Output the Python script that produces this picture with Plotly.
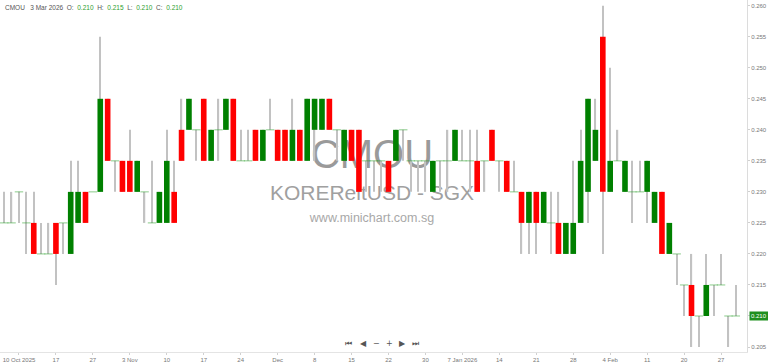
import plotly.graph_objects as go

# ---------------- data ----------------
dates = [
    "2025-10-08", "2025-10-09", "2025-10-10", "2025-10-13", "2025-10-14", "2025-10-15", "2025-10-16", "2025-10-17",
    "2025-10-21", "2025-10-22", "2025-10-23", "2025-10-24", "2025-10-27", "2025-10-28", "2025-10-29", "2025-10-30",
    "2025-10-31", "2025-11-03", "2025-11-04", "2025-11-05", "2025-11-06", "2025-11-07", "2025-11-10", "2025-11-11",
    "2025-11-12", "2025-11-13", "2025-11-14", "2025-11-17", "2025-11-18", "2025-11-19", "2025-11-20", "2025-11-21",
    "2025-11-24", "2025-11-25", "2025-11-26", "2025-11-27", "2025-11-28", "2025-12-01", "2025-12-02", "2025-12-03",
    "2025-12-04", "2025-12-05", "2025-12-08", "2025-12-09", "2025-12-10", "2025-12-11", "2025-12-12", "2025-12-15",
    "2025-12-16", "2025-12-17", "2025-12-18", "2025-12-19", "2025-12-22", "2025-12-23", "2025-12-24", "2025-12-26",
    "2025-12-29", "2025-12-30", "2025-12-31", "2026-01-02", "2026-01-05", "2026-01-06", "2026-01-07", "2026-01-08",
    "2026-01-09", "2026-01-12", "2026-01-13", "2026-01-14", "2026-01-15", "2026-01-16", "2026-01-19", "2026-01-20",
    "2026-01-21", "2026-01-22", "2026-01-23", "2026-01-26", "2026-01-27", "2026-01-28", "2026-01-29", "2026-01-30",
    "2026-02-02", "2026-02-03", "2026-02-04", "2026-02-05", "2026-02-06", "2026-02-09", "2026-02-10", "2026-02-11",
    "2026-02-12", "2026-02-13", "2026-02-16", "2026-02-19", "2026-02-20", "2026-02-23", "2026-02-24", "2026-02-25",
    "2026-02-26", "2026-02-27", "2026-03-02", "2026-03-03",
]

opens = [
    0.225, 0.225, 0.230, 0.225, 0.225, 0.220, 0.220, 0.225, 0.225, 0.220,
    0.225, 0.230, 0.230, 0.230, 0.245, 0.235, 0.235, 0.235, 0.230, 0.230,
    0.225, 0.225, 0.225, 0.230, 0.240, 0.240, 0.240, 0.245, 0.235, 0.240,
    0.240, 0.245, 0.235, 0.235, 0.240, 0.235, 0.240, 0.240, 0.240, 0.235,
    0.240, 0.235, 0.240, 0.240, 0.245, 0.240, 0.235, 0.240, 0.240, 0.235,
    0.235, 0.235, 0.235, 0.235, 0.240, 0.235, 0.235, 0.235, 0.230, 0.235,
    0.235, 0.235, 0.235, 0.235, 0.235, 0.235, 0.240, 0.235, 0.235, 0.230,
    0.230, 0.225, 0.230, 0.225, 0.225, 0.225, 0.220, 0.220, 0.225, 0.230,
    0.235, 0.255, 0.230, 0.235, 0.230, 0.230, 0.230, 0.230, 0.225, 0.230,
    0.220, 0.220, 0.215, 0.215, 0.210, 0.210, 0.215, 0.215, 0.210, 0.210,
]

highs = [
    0.230, 0.230, 0.230, 0.230, 0.230, 0.225, 0.225, 0.225, 0.225, 0.235,
    0.235, 0.230, 0.230, 0.255, 0.245, 0.235, 0.235, 0.240, 0.235, 0.230,
    0.235, 0.230, 0.240, 0.235, 0.245, 0.245, 0.240, 0.245, 0.240, 0.245,
    0.245, 0.245, 0.240, 0.240, 0.240, 0.240, 0.245, 0.240, 0.240, 0.245,
    0.240, 0.245, 0.245, 0.245, 0.245, 0.240, 0.240, 0.240, 0.240, 0.235,
    0.235, 0.235, 0.235, 0.240, 0.240, 0.235, 0.235, 0.235, 0.235, 0.235,
    0.240, 0.240, 0.240, 0.240, 0.240, 0.235, 0.240, 0.235, 0.235, 0.235,
    0.230, 0.230, 0.230, 0.230, 0.230, 0.230, 0.225, 0.235, 0.240, 0.245,
    0.245, 0.260, 0.250, 0.240, 0.235, 0.235, 0.235, 0.235, 0.230, 0.230,
    0.225, 0.220, 0.215, 0.220, 0.210, 0.220, 0.215, 0.220, 0.210, 0.215,
]

lows = [
    0.225, 0.225, 0.225, 0.220, 0.220, 0.220, 0.220, 0.215, 0.220, 0.220,
    0.225, 0.225, 0.230, 0.230, 0.235, 0.230, 0.230, 0.230, 0.230, 0.225,
    0.225, 0.225, 0.225, 0.225, 0.235, 0.240, 0.235, 0.235, 0.235, 0.235,
    0.240, 0.235, 0.235, 0.235, 0.235, 0.235, 0.240, 0.235, 0.235, 0.235,
    0.235, 0.235, 0.235, 0.240, 0.240, 0.235, 0.235, 0.235, 0.230, 0.230,
    0.230, 0.230, 0.230, 0.235, 0.235, 0.230, 0.230, 0.230, 0.230, 0.230,
    0.230, 0.235, 0.235, 0.230, 0.230, 0.230, 0.235, 0.230, 0.230, 0.230,
    0.220, 0.220, 0.220, 0.225, 0.220, 0.220, 0.220, 0.220, 0.225, 0.225,
    0.235, 0.220, 0.230, 0.235, 0.230, 0.225, 0.230, 0.225, 0.225, 0.220,
    0.220, 0.215, 0.210, 0.205, 0.205, 0.210, 0.210, 0.215, 0.205, 0.210,
]

closes = [
    0.225, 0.225, 0.230, 0.225, 0.220, 0.220, 0.220, 0.220, 0.225, 0.230,
    0.230, 0.225, 0.230, 0.245, 0.235, 0.235, 0.230, 0.230, 0.235, 0.230,
    0.225, 0.230, 0.235, 0.225, 0.235, 0.245, 0.240, 0.235, 0.240, 0.240,
    0.245, 0.235, 0.235, 0.235, 0.235, 0.240, 0.240, 0.235, 0.235, 0.240,
    0.235, 0.245, 0.245, 0.245, 0.240, 0.240, 0.240, 0.235, 0.230, 0.235,
    0.235, 0.235, 0.230, 0.240, 0.240, 0.235, 0.235, 0.235, 0.235, 0.235,
    0.235, 0.240, 0.235, 0.235, 0.230, 0.235, 0.235, 0.235, 0.230, 0.230,
    0.225, 0.230, 0.225, 0.230, 0.225, 0.220, 0.225, 0.225, 0.235, 0.245,
    0.240, 0.230, 0.235, 0.235, 0.235, 0.230, 0.230, 0.235, 0.230, 0.220,
    0.225, 0.220, 0.215, 0.210, 0.210, 0.215, 0.215, 0.215, 0.210, 0.210,
]

tick_dates = [
    "2025-10-10", "2025-10-17", "2025-10-27", "2025-11-03", "2025-11-10", "2025-11-17", "2025-11-24",
    "2025-12-01", "2025-12-08", "2025-12-15", "2025-12-22", "2025-12-30", "2026-01-07", "2026-01-14",
    "2026-01-21", "2026-01-28", "2026-02-04", "2026-02-11", "2026-02-20", "2026-02-27",
]
tick_labels = [
    "10 Oct 2025", "17", "27", "3 Nov", "10", "17", "24", "Dec", "8", "15", "22", "30",
    "7 Jan 2026", "14", "21", "28", "4 Feb", "11", "20", "27",
]
price_ticks = [0.205, 0.210, 0.215, 0.220, 0.225, 0.230, 0.235, 0.240, 0.245, 0.250, 0.255, 0.260]

GREEN = "#008000"
RED = "#ff0000"
FONT = "Liberation Sans, Arial, sans-serif"

# ---------------- traces ----------------
fig = go.Figure()

# wicks (thin bars so that the bodies drawn afterwards sit on top of them)
wick_base = list(lows)
wick_len = [h - l for h, l in zip(highs, lows)]
fig.add_trace(go.Bar(x=dates, y=wick_len, base=wick_base, width=0.17,
                     marker=dict(color="#c2c2c2", line=dict(width=0)), hoverinfo="skip"))

# bodies
body_base = [min(o, c) for o, c in zip(opens, closes)]
body_len = [abs(c - o) for o, c in zip(opens, closes)]
body_col = [GREEN if c > o else RED for o, c in zip(opens, closes)]
fig.add_trace(go.Bar(x=dates, y=body_len, base=body_base, width=0.76,
                     marker=dict(color=body_col, line=dict(width=0))))

# open == close: short dash
doji_x = [d for d, o, c in zip(dates, opens, closes) if o == c]
doji_y = [o for o, c in zip(opens, closes) if o == c]
fig.add_trace(go.Scatter(x=doji_x, y=doji_y, mode="markers",
                         marker=dict(symbol="line-ew", size=6,
                                     line=dict(color="rgba(40,160,40,0.55)", width=1))))

# ---------------- layout ----------------
W, H = 768, 363
ML, MR, MT, MB = 0, 21, 0, 11
PW, PH = W - ML - MR, H - MT - MB


def px_x(px):
    return (px - ML) / PW


def px_y(py):
    return 1 - (py - MT) / PH


fig.update_layout(
    width=W, height=H,
    margin=dict(l=ML, r=MR, t=MT, b=MB),
    paper_bgcolor="white", plot_bgcolor="white",
    showlegend=False, barmode="overlay",
    font=dict(family=FONT),
    xaxis=dict(type="category", categoryorder="array", categoryarray=dates,
               range=[-0.568, 100.51], tickmode="array", tickvals=tick_dates, ticktext=tick_labels,
               tickfont=dict(size=6, color="#777"), showgrid=False, zeroline=False,
               showline=True, linecolor="#e4e4e4", linewidth=1,
               ticks="outside", ticklen=2, tickcolor="#d0d0d0", fixedrange=True),
    yaxis=dict(side="right", range=[0.204198, 0.260918], tickmode="array", tickvals=price_ticks,
               ticktext=[f"{p:.3f}" for p in price_ticks],
               tickfont=dict(size=6, color="#777"), showgrid=False, zeroline=False,
               showline=True, linecolor="#dcdcdc", linewidth=1,
               ticks="outside", ticklen=2, tickcolor="#d0d0d0", fixedrange=True),
)

# watermark (behind the candles)
wm = [("CMOU", 40, 150, "#9a9a9a"), ("KOREReitUSD - SGX", 21, 190, "#a0a0a0"),
      ("www.minichart.com.sg", 12.5, 216, "#a8a8a8")]
for text, size, cy, col in wm:
    fig.add_shape(type="rect", xref="paper", yref="paper",
                  x0=px_x(372) - 0.3, x1=px_x(372) + 0.3,
                  y0=px_y(cy) - 0.05, y1=px_y(cy) + 0.05,
                  line=dict(width=0), fillcolor="rgba(0,0,0,0)", layer="below",
                  label=dict(text=text, font=dict(size=size, color=col, family=FONT),
                             textposition="middle center"))

# header
gv = "<span style='color:#2e9e2e'>{}</span>"
header = ("CMOU&nbsp;&nbsp;&nbsp;3 Mar 2026&nbsp;&nbsp;O:&nbsp;&nbsp;" + gv.format(f"{opens[-1]:.3f}") +
          "&nbsp;&nbsp;H:&nbsp;&nbsp;" + gv.format(f"{highs[-1]:.3f}") +
          "&nbsp;&nbsp;L:&nbsp;&nbsp;" + gv.format(f"{lows[-1]:.3f}") +
          "&nbsp;&nbsp;C:&nbsp;&nbsp;" + gv.format(f"{closes[-1]:.3f}"))
fig.add_annotation(x=px_x(3), y=px_y(7), xref="paper", yref="paper", xanchor="left", yanchor="middle",
                   text=header, showarrow=False, font=dict(size=6.5, color="#555", family=FONT))

# last price tag
fig.add_annotation(x=1, xref="paper", y=closes[-1], yref="y", xanchor="left", yanchor="middle",
                   xshift=2, text=f"{closes[-1]:.3f}", showarrow=False, bgcolor="#1f8f1f",
                   borderpad=1, font=dict(size=6, color="white", family=FONT))

# navigation buttons
nav = [("⏮", 348), ("◀", 363), ("−", 377), ("+", 389), ("▶", 402), ("⏭", 415)]
for sym, x in nav:
    fig.add_annotation(x=px_x(x), y=px_y(343), xref="paper", yref="paper", xanchor="center",
                       yanchor="middle", text=sym, showarrow=False,
                       font=dict(size=8, color="#555", family="DejaVu Sans"))

fig.write_html("out.html")
